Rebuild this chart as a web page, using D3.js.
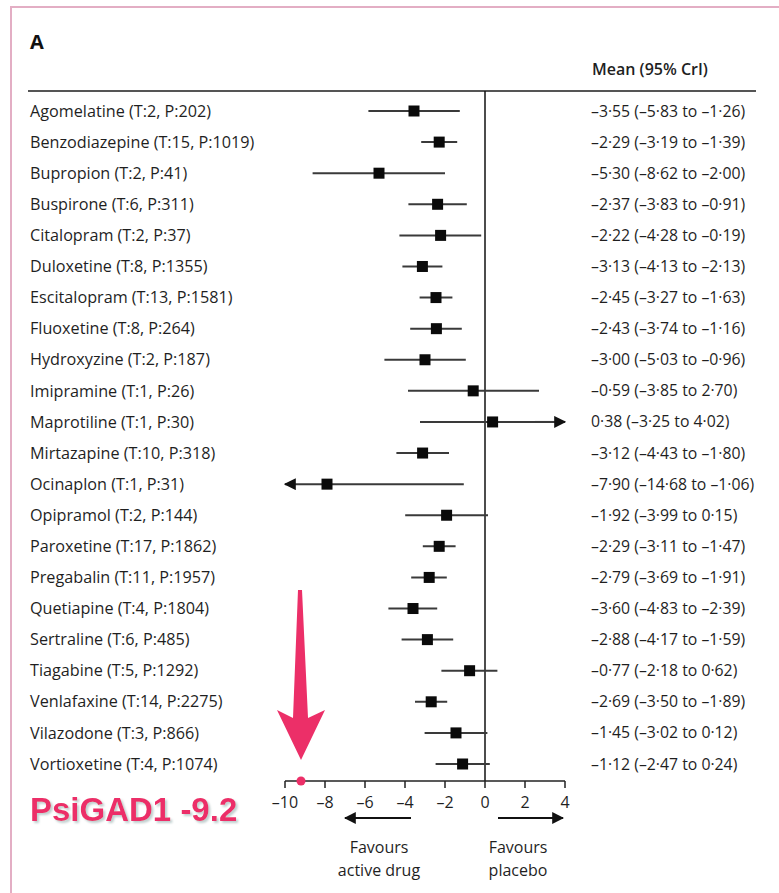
<!DOCTYPE html>
<html>
<head>
<meta charset="utf-8">
<script src="https://cdnjs.cloudflare.com/ajax/libs/d3/7.8.5/d3.min.js"></script>
<style>
  html, body { margin: 0; padding: 0; background: #fff; }
  svg text { font-family: 'Open Sans', 'Liberation Sans', sans-serif; fill: #1f1f1f; }
</style>
</head>
<body>
<div id="chart"></div>
<script>
// drug names with number of trials (T) and patients (P)
var drugs = ['Agomelatine', 'Benzodiazepine', 'Bupropion', 'Buspirone', 'Citalopram', 'Duloxetine',
             'Escitalopram', 'Fluoxetine', 'Hydroxyzine', 'Imipramine', 'Maprotiline', 'Mirtazapine',
             'Ocinaplon', 'Opipramol', 'Paroxetine', 'Pregabalin', 'Quetiapine', 'Sertraline',
             'Tiagabine', 'Venlafaxine', 'Vilazodone', 'Vortioxetine'];
var trials   = [2, 15, 2, 6, 2, 8, 13, 8, 2, 1, 1, 10, 1, 2, 17, 11, 4, 6, 5, 14, 3, 4];
var patients = [202, 1019, 41, 311, 37, 1355, 1581, 264, 187, 26, 30, 318, 31, 144, 1862, 1957, 1804, 485, 1292, 2275, 866, 1074];

// mean difference and 95% credible interval
var means = [-3.55, -2.29, -5.30, -2.37, -2.22, -3.13, -2.45, -2.43, -3.00, -0.59, 0.38, -3.12,
             -7.90, -1.92, -2.29, -2.79, -3.60, -2.88, -0.77, -2.69, -1.45, -1.12];
var lows  = [-5.83, -3.19, -8.62, -3.83, -4.28, -4.13, -3.27, -3.74, -5.03, -3.85, -3.25, -4.43,
             -14.68, -3.99, -3.11, -3.69, -4.83, -4.17, -2.18, -3.50, -3.02, -2.47];
var highs = [-1.26, -1.39, -2.00, -0.91, -0.19, -2.13, -1.63, -1.16, -0.96, 2.70, 4.02, -1.80,
             -1.06, 0.15, -1.47, -1.91, -2.39, -1.59, 0.62, -1.89, 0.12, 0.24];

var axisTicks = [-10, -8, -6, -4, -2, 0, 2, 4];
var psigadValue = -9.2;

var rows = drugs.map(function(d, i) {
    return { name: d, t: trials[i], p: patients[i], mean: means[i], lo: lows[i], hi: highs[i] };
});

// number format with middle dot and en dash, like the journal
function fmt(v) {
    var s = Math.abs(v).toFixed(2).replace('.', '\u00b7');
    return (v < 0 ? '\u2013' : '') + s;
}

var WIDTH = 779, HEIGHT = 893;
var PINK = '#ec2f68';

var svg = d3.select('#chart').append('svg')
    .attr('width', WIDTH)
    .attr('height', HEIGHT);

var defs = svg.append('defs');

// pink frame round the panel
svg.append('path')
    .attr('d', 'M11,893 L11,7 L779,7')
    .attr('fill', 'none')
    .attr('stroke', '#e3aec4')
    .attr('stroke-width', 2);

var x = d3.scaleLinear().domain([-10, 4]).range([285, 565]);
var y = d3.scalePoint().domain(drugs).range([111, 764]);

// panel letter and column header
svg.append('text').attr('x', 30).attr('y', 49)
    .style('font-size', '20px').style('font-weight', 700).style('fill', '#111')
    .text('A');
svg.append('text').attr('x', 592).attr('y', 75)
    .style('font-size', '16px').style('font-weight', 600)
    .text('Mean (95% CrI)');

// top rule
svg.append('line')
    .attr('x1', 28).attr('x2', 756).attr('y1', 91).attr('y2', 91)
    .attr('stroke', '#555').attr('stroke-width', 2);

// zero line
svg.append('line')
    .attr('x1', x(0)).attr('x2', x(0)).attr('y1', 91).attr('y2', 781)
    .attr('stroke', '#111').attr('stroke-width', 1.5);

// arrowhead marker for intervals running off the axis
defs.append('marker')
    .attr('id', 'tip')
    .attr('viewBox', '0 0 10 10')
    .attr('refX', 9).attr('refY', 5)
    .attr('markerWidth', 6).attr('markerHeight', 6)
    .attr('markerUnits', 'strokeWidth')
    .attr('orient', 'auto')
    .append('path').attr('d', 'M0,0 L10,5 L0,10 Z').attr('fill', '#111');

// soft shadow under the pink label
var shadow = defs.append('filter').attr('id', 'shadow')
    .attr('x', '-10%').attr('y', '-20%').attr('width', '120%').attr('height', '150%');
shadow.append('feDropShadow')
    .attr('dx', 2).attr('dy', 2).attr('stdDeviation', 1)
    .attr('flood-color', '#b8c8c8').attr('flood-opacity', 0.9);

var row = svg.selectAll('g.row')
    .data(rows)
    .enter()
    .append('g')
    .attr('class', 'row')
    .attr('transform', function(d) { return 'translate(0,' + y(d.name) + ')'; });

// drug labels
row.append('text')
    .attr('x', 30).attr('dy', '0.35em')
    .style('font-size', '16.2px')
    .text(function(d) { return d.name + ' (T:' + d.t + ', P:' + d.p + ')'; });

// credible interval whiskers, clipped to the axis with an arrow
row.append('line')
    .attr('x1', function(d) { return x(Math.min(d.hi, 4)); })
    .attr('x2', function(d) { return x(Math.max(d.lo, -10)); })
    .attr('stroke', '#3a3a3a')
    .attr('stroke-width', 2)
    .attr('marker-end', function(d) { return d.lo < -10 ? 'url(#tip)' : null; });

// right arrow for maprotiline
row.filter(function(d) { return d.hi > 4; })
    .append('line')
    .attr('x1', x(2.5))
    .attr('x2', x(4))
    .attr('stroke', '#3a3a3a')
    .attr('stroke-width', 2)
    .attr('marker-end', 'url(#tip)');

// mean markers
row.append('rect')
    .attr('x', function(d) { return x(d.mean) - 5.5; })
    .attr('y', -5.5)
    .attr('width', 11).attr('height', 11)
    .attr('fill', '#0a0a0a');

// mean (95% CrI) text
row.append('text')
    .attr('x', 591).attr('dy', '0.35em')
    .style('font-size', '15.8px')
    .text(function(d) { return fmt(d.mean) + ' (' + fmt(d.lo) + ' to ' + fmt(d.hi) + ')'; });

// x axis
var axisY = 781;
svg.append('line')
    .attr('x1', x(-10)).attr('x2', x(4)).attr('y1', axisY).attr('y2', axisY)
    .attr('stroke', '#222').attr('stroke-width', 1.5);
svg.selectAll('line.tick')
    .data(axisTicks)
    .enter()
    .append('line')
    .attr('class', 'tick')
    .attr('x1', function(d) { return x(d); })
    .attr('x2', function(d) { return x(d); })
    .attr('y1', axisY).attr('y2', axisY + 7)
    .attr('stroke', '#222').attr('stroke-width', 1.5);
svg.selectAll('text.tick')
    .data(axisTicks)
    .enter()
    .append('text')
    .attr('class', 'tick')
    .attr('x', function(d) { return x(d); })
    .attr('y', 808)
    .attr('text-anchor', 'middle')
    .style('font-size', '16px')
    .text(function(d) { return d < 0 ? '\u2013' + Math.abs(d) : d; });

// favours arrows and captions
var favours = [
    { from: -3.7, to: -7.0, cx: -5.3, lines: ['Favours', 'active drug'] },
    { from: 0.65, to: 3.9, cx: 1.65, lines: ['Favours', 'placebo'] }
];
var fav = svg.selectAll('g.fav')
    .data(favours)
    .enter()
    .append('g')
    .attr('class', 'fav');
fav.append('line')
    .attr('x1', function(d) { return x(d.from); })
    .attr('x2', function(d) { return x(d.to); })
    .attr('y1', 818).attr('y2', 818)
    .attr('stroke', '#111').attr('stroke-width', 2)
    .attr('marker-end', 'url(#tip)');
fav.selectAll('text')
    .data(function(d) { return d.lines.map(function(l) { return { cx: d.cx, l: l }; }); })
    .enter()
    .append('text')
    .attr('x', function(d) { return x(d.cx); })
    .attr('y', function(d, i) { return 853 + i * 23; })
    .attr('text-anchor', 'middle')
    .style('font-size', '16px')
    .text(function(d) { return d.l; });

// PsiGAD1 annotation: big pink arrow pointing at its value on the axis
var ax = x(psigadValue);
svg.append('path')
    .attr('d', 'M' + (ax - 3) + ',590 L' + (ax + 1) + ',590 L' + (ax + 7) + ',718 L' + (ax + 24) + ',710 L' + ax + ',760 L'
          + (ax - 24) + ',710 L' + (ax - 8) + ',718 Z')
    .attr('fill', PINK);
svg.append('circle')
    .attr('cx', ax).attr('cy', axisY)
    .attr('r', 4.5)
    .attr('fill', PINK);

// PsiGAD1 label
svg.append('text')
    .attr('x', 30).attr('y', 821)
    .attr('filter', 'url(#shadow)')
    .style('font-family', "'Liberation Sans', Arial, sans-serif")
    .style('font-size', '33px').style('font-weight', 700)
    .style('fill', PINK)
    .text('PsiGAD1 -9.2');
</script>
</body>
</html>
